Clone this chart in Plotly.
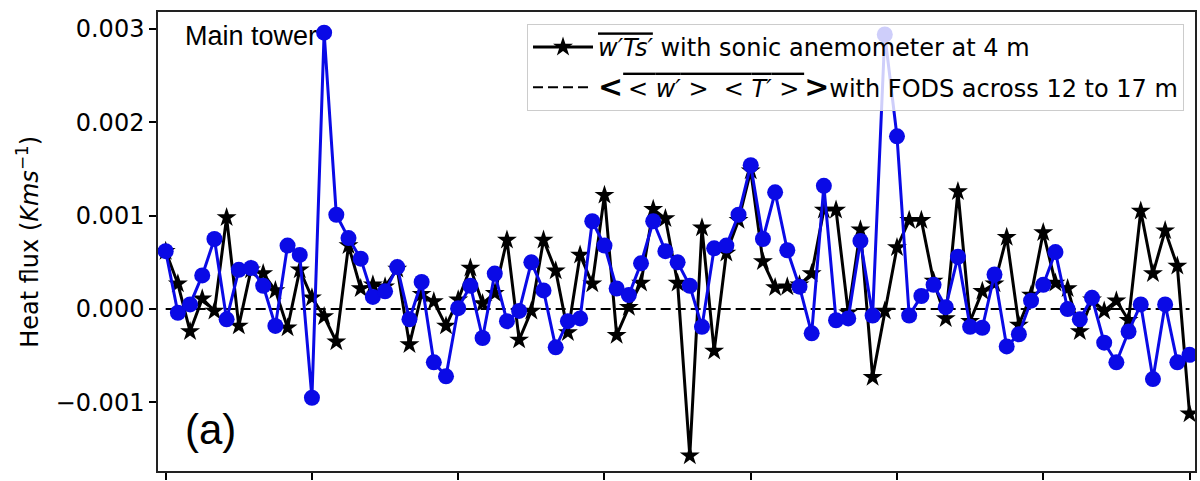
import plotly.graph_objects as go

# sample index along the record (x positions of the points)
sample_index = list(range(85))
x_tick_values = [0, 12, 24, 36, 48, 60, 72, 84]

# w'Ts' with sonic anemometer at 4 m (black stars), K m s^-1
sonic_flux = [
    0.00062, 0.00027, -0.00024, 0.00011, -0.00002, 0.00098, -0.00018, 0.00042, 0.00038, 0.00020,
    -0.00020, 0.00042, 0.00012, -0.00008, -0.00035, 0.00068, 0.00022, 0.00026, 0.00024, 0.00043,
    -0.00038, 0.00016, 0.00008, -0.00018, 0.00010, 0.00044, 0.00006, 0.00017, 0.00074, -0.00033,
    -0.00002, 0.00074, 0.00041, -0.00025, 0.00058, 0.00027, 0.00122, -0.00028, 0.00002, 0.00028,
    0.00107, 0.00097, 0.00028, -0.00157, 0.00087, -0.00045, 0.00060, 0.00095, 0.00148, 0.00051,
    0.00023, 0.00024, 0.00026, 0.00038, 0.00106, 0.00106, -0.00004, 0.00085, -0.00073, -0.00002,
    0.00066, 0.00095, 0.00095, 0.00030, -0.00010, 0.00126, -0.00013, 0.00019, 0.00027, 0.00077,
    -0.00017, 0.00015, 0.00082, 0.00028, 0.00022, -0.00024, 0.00010, -0.00002, 0.00009, -0.00012,
    0.00105, 0.00038, 0.00084, 0.00046, -0.00112,
]

# FODS-derived flux (blue circles), K m s^-1
fods_flux = [
    0.00062, -0.00004, 0.00005, 0.00036, 0.00075, -0.00011, 0.00042, 0.00044, 0.00025, -0.00018,
    0.00068, 0.00058, -0.00095, 0.00296, 0.00101, 0.00076, 0.00054, 0.00013, 0.00019, 0.00045,
    -0.00011, 0.00029, -0.00057, -0.00072, 0.00001, 0.00025, -0.00031, 0.00038, -0.00013, -0.00002,
    0.00050, 0.00020, -0.00041, -0.00013, -0.00010, 0.00094, 0.00068, 0.00022, 0.00015, 0.00049,
    0.00094, 0.00062, 0.00050, 0.00025, -0.00019, 0.00065, 0.00068, 0.00101, 0.00154, 0.00075,
    0.00125, 0.00063, 0.00024, -0.00026, 0.00132, -0.00012, -0.00010, 0.00073, -0.00007, 0.00294,
    0.00185, -0.00007, 0.00014, 0.00026, 0.00002, 0.00056, -0.00019, -0.00020, 0.00037, -0.00040,
    -0.00027, 0.00009, 0.00026, 0.00061, 0.00000, -0.00011, 0.00012, -0.00036, -0.00057, -0.00024,
    0.00005, -0.00075, 0.00005, -0.00057, -0.00049,
]

y_tick_values = [-0.001, 0.0, 0.001, 0.002, 0.003]
y_tick_labels = ["\u22120.001", "0.000", "0.001", "0.002", "0.003"]

OVL = "<span style='text-decoration:overline'>"

label_sonic = OVL + "<i>w\u2032Ts\u2032</i></span> with sonic anemometer at 4 m"
big_l = "<span style='font-size:30px'><b>&lt;</b></span>"
big_r = "<span style='font-size:30px'><b>&gt;</b></span>"
label_fods = (big_l + OVL + "\u2009&lt; <i>w\u2032</i> &gt;  &lt; <i>T\u2032</i> &gt;\u2009</span>"
              + big_r + "with FODS across 12 to 17 m")

FONT = "DejaVu Sans"

fig = go.Figure()
fig.add_trace(go.Scatter(
    x=sample_index, y=sonic_flux, mode="lines+markers", name=label_sonic,
    legendgroup="g1",
    line=dict(color="black", width=3),
    marker=dict(symbol="star", size=15, color="black"),
))
fig.add_trace(go.Scatter(
    x=[sample_index[0], sample_index[-1]], y=[0, 0], mode="lines", name=label_fods,
    legendgroup="g2",
    line=dict(color="black", width=2, dash="10px,5px"),
))
fig.add_trace(go.Scatter(
    x=sample_index, y=fods_flux, mode="lines+markers", showlegend=False,
    line=dict(color="#0a0ae6", width=3),
    marker=dict(symbol="circle", size=16, color="#0a0ae6"),
))

fig.update_layout(
    width=1200, height=481,
    margin=dict(l=158, r=3, t=12, b=7),
    paper_bgcolor="white", plot_bgcolor="white",
    font=dict(family=FONT, size=24, color="black"),
    showlegend=True,
    legend=dict(
        x=0.9894, y=0.974, xanchor="right", yanchor="top",
        bgcolor="rgba(255,255,255,0.8)", bordercolor="#cccccc", borderwidth=1,
        font=dict(family=FONT, size=24, color="black"),
        itemwidth=60, tracegroupgap=6, traceorder="grouped",
    ),
    annotations=[
        dict(text="Main tower", xref="paper", yref="paper", x=0.024, y=0.985,
             xanchor="left", yanchor="top", showarrow=False,
             font=dict(family="Liberation Sans", size=27, color="black")),
        dict(text="(a)", xref="paper", yref="paper", x=0.024, y=0.035,
             xanchor="left", yanchor="bottom", showarrow=False,
             font=dict(family="Liberation Sans", size=42, color="black")),
        dict(text="Heat flux (<i>Kms</i><sup>\u22121</sup>)", xref="paper", yref="paper",
             x=-0.126, y=0.5, xanchor="center", yanchor="middle", textangle=-90,
             showarrow=False, font=dict(family=FONT, size=24, color="black")),
    ],
)

fig.update_xaxes(
    range=[-0.63, 84.45], tickvals=x_tick_values, showticklabels=False,
    ticks="outside", ticklen=7, tickwidth=1.5, tickcolor="black",
    showline=True, linecolor="#222", linewidth=1.5, mirror=True,
    showgrid=False, zeroline=False,
)
fig.update_yaxes(
    range=[-0.001734, 0.003181], tickvals=y_tick_values, ticktext=y_tick_labels,
    ticks="outside", ticklen=7, tickwidth=1.5, tickcolor="black",
    tickfont=dict(family=FONT, size=24, color="black"),
    showline=True, linecolor="#222", linewidth=1.5, mirror=True,
    showgrid=False, zeroline=False,
)

fig.write_html(
    "out.html",
    config={"displayModeBar": False},
    post_script="document.body.style.margin='0';document.body.style.overflow='hidden';",
)
